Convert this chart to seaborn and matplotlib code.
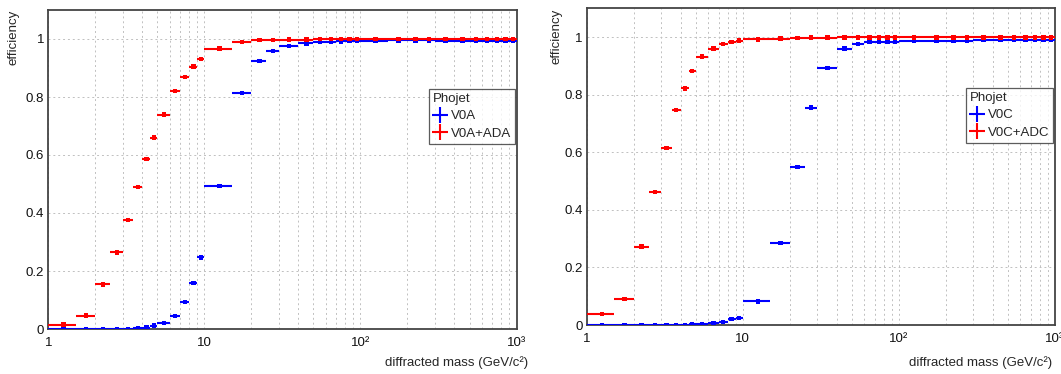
import numpy as np
import pandas as pd
import matplotlib
matplotlib.use("Agg")
import matplotlib.pyplot as plt
import matplotlib.ticker as mticker
from matplotlib.lines import Line2D
import seaborn as sns

# ---------------- data ----------------
bin_edges = [1, 1.5, 2, 2.5, 3, 3.5, 4, 4.5, 5, 6, 7, 8, 9, 10, 15, 20, 25, 30, 40, 50,
             60, 70, 80, 90, 100, 150, 200, 250, 300, 400, 500, 600, 700, 800, 900, 1000]

v0a = [0.0, 0.0, 0.0, 0.001, 0.001, 0.002, 0.005, 0.012, 0.020, 0.045, 0.093, 0.158,
       0.247, 0.494, 0.813, 0.924, 0.958, 0.976, 0.985, 0.989, 0.991, 0.992, 0.993,
       0.993, 0.994, 0.995, 0.995, 0.995, 0.994, 0.993, 0.993, 0.994, 0.994, 0.994, 0.994]
v0a_ada = [0.015, 0.046, 0.154, 0.264, 0.376, 0.489, 0.586, 0.660, 0.739, 0.821, 0.868,
           0.905, 0.932, 0.967, 0.989, 0.996, 0.997, 0.998, 0.998, 0.999, 0.999, 0.999,
           0.999, 0.999, 0.999, 0.999, 0.999, 0.999, 0.999, 0.999, 0.999, 0.999, 0.999,
           0.999, 0.999]
v0c = [0.0, 0.0, 0.0, 0.0, 0.0, 0.001, 0.001, 0.002, 0.004, 0.008, 0.010, 0.021, 0.025,
       0.082, 0.285, 0.548, 0.755, 0.893, 0.960, 0.976, 0.982, 0.983, 0.984, 0.984,
       0.986, 0.987, 0.988, 0.988, 0.989, 0.989, 0.990, 0.990, 0.990, 0.991, 0.991]
v0c_adc = [0.038, 0.091, 0.272, 0.462, 0.614, 0.747, 0.822, 0.882, 0.932, 0.960, 0.977,
           0.984, 0.988, 0.992, 0.995, 0.997, 0.998, 0.998, 0.999, 0.999, 0.999, 0.999,
           0.999, 0.999, 0.999, 0.999, 0.999, 0.999, 0.999, 0.999, 0.999, 0.999, 0.999,
           0.999, 0.999]

legend_title = "Phojet"
panels = [
    {"series": [("V0A", v0a), ("V0A+ADA", v0a_ada)]},
    {"series": [("V0C", v0c), ("V0C+ADC", v0c_adc)]},
]
colors = ["#0000ff", "#ff0000"]
xtick_vals = [1, 10, 100, 1000]
xtick_labels = ["1", "10", "10²", "10³"]

# ---------------- style ----------------
sns.set_style("white")
plt.rcParams["font.family"] = ["Liberation Sans", "DejaVu Sans"]

fig = plt.figure(figsize=(10.61, 3.74), dpi=100)
W, H = 1061, 374
# axes box (left, top, right, bottom) in pixels, ylabel anchor x, xlabel right x, legend (left, top)
layout = [
    dict(box=(48.3, 10, 516.5, 329), ylab_x=20, xlab_r=528, leg=(429, 89)),
    dict(box=(586.7, 8.3, 1054.7, 325), ylab_x=562, xlab_r=1052, leg=(966, 88)),
]

lo = np.array(bin_edges[:-1])
hi = np.array(bin_edges[1:])
centers = (lo + hi) / 2

frame_col = "#444444"
for p, L in zip(panels, layout):
    x0, y0, x1, y1 = L["box"]
    ax = fig.add_axes([x0 / W, 1 - y1 / H, (x1 - x0) / W, (y1 - y0) / H])
    handles = []
    for (name, vals), col in zip(p["series"], colors):
        df = pd.DataFrame({"x": centers, "y": vals})
        ax.errorbar(df["x"], df["y"], xerr=[centers - lo, hi - centers], fmt="none",
                    ecolor=col, elinewidth=1.5, capsize=0, zorder=3)
        sns.scatterplot(data=df, x="x", y="y", color=col, s=10, marker="s",
                        edgecolor="none", ax=ax, legend=False, zorder=4)
        handles.append(Line2D([0], [0], color=col, marker="+", markersize=11,
                              markeredgewidth=1.5, linestyle="none", label=name))
    ax.set_xscale("log")
    ax.set_xlim(1, 1000)
    ax.set_ylim(0, 1.1)
    ax.set_xticks(xtick_vals)
    ax.set_xticklabels(xtick_labels)
    ax.xaxis.set_minor_locator(mticker.LogLocator(base=10, subs=np.arange(2, 10)))
    ax.xaxis.set_minor_formatter(mticker.NullFormatter())
    ax.yaxis.set_major_locator(mticker.MultipleLocator(0.2))
    ax.yaxis.set_minor_locator(mticker.MultipleLocator(0.05))
    ax.yaxis.set_major_formatter(mticker.FuncFormatter(lambda v, pos: f"{v:g}"))
    ax.tick_params(axis="both", which="both", direction="in", colors=frame_col,
                   labelcolor="#111111", labelsize=9.5)
    ax.tick_params(axis="y", which="major", length=13, width=1.2, pad=3)
    ax.tick_params(axis="y", which="minor", length=6.5, width=1.0)
    ax.tick_params(axis="x", which="major", length=8, width=1.2, pad=6)
    ax.tick_params(axis="x", which="minor", length=4.5, width=1.0)
    ax.grid(True, which="both", axis="x", linestyle=(0, (2, 3)), color="#c0c0c0", lw=0.7)
    ax.grid(True, which="major", axis="y", linestyle=(0, (2, 3)), color="#c0c0c0", lw=0.7)
    ax.set_axisbelow(True)
    for s in ax.spines.values():
        s.set_color(frame_col)
        s.set_linewidth(1.3)
        s.set_visible(True)
    ax.set_ylabel("efficiency", fontsize=9.5, loc="top")
    ax.yaxis.set_label_coords((L["ylab_x"] - x0) / (x1 - x0), 1.0)
    ax.set_xlabel("diffracted mass (GeV/c²)", fontsize=9.5, loc="right")
    ax.xaxis.set_label_coords((L["xlab_r"] - x0) / (x1 - x0), -(356 - y1) / (y1 - y0))
    lx, ly = L["leg"]
    leg = ax.legend(handles=handles, title=legend_title, loc="upper left",
                    bbox_to_anchor=((lx - x0) / (x1 - x0), (y1 - ly) / (y1 - y0)),
                    fontsize=9.5, title_fontsize=9.5,
                    frameon=True, fancybox=False, edgecolor="#333333",
                    handlelength=1.1, handletextpad=0.25, borderpad=0.3,
                    labelspacing=0.4, borderaxespad=0, alignment="left")
    leg.get_frame().set_linewidth(0.9)
    leg.set_zorder(10)

fig.savefig("out.png", dpi=100, facecolor="white")
